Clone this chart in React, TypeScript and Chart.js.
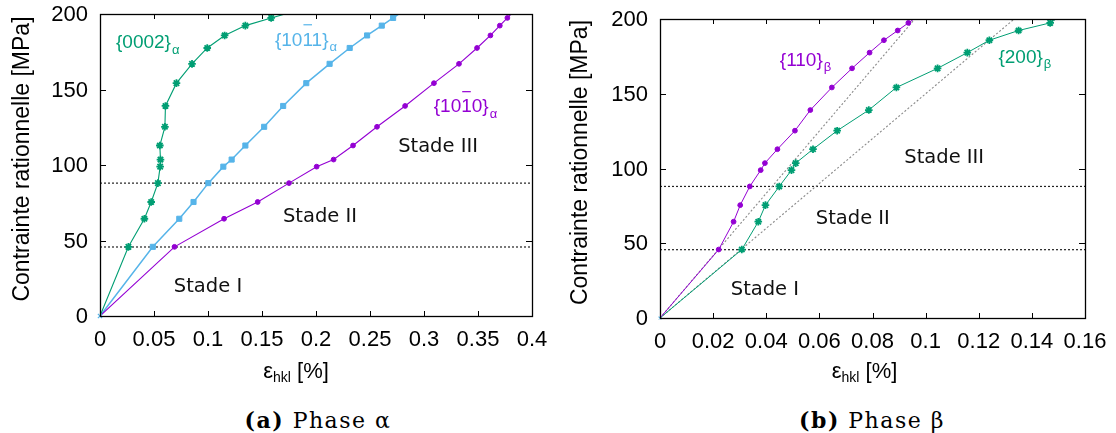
import React, { useEffect, useRef } from 'react';
import { Chart, registerables } from 'chart.js';

Chart.register(...registerables);

// Applied stress levels (MPa), common to every hkl family
const STRESS = [0, 45.8, 64.4, 75.5, 88, 98.9, 103.6, 112.9, 125.3, 139.1, 154.2, 167, 177.5, 185.8, 192.3, 197.4, 205];

// Phase alpha: lattice strains (%)
const ALPHA_0002 = [0, 0.0263, 0.0411, 0.0474, 0.0536, 0.0557, 0.056, 0.0554, 0.0601, 0.0606, 0.0708, 0.0852, 0.0993, 0.1154, 0.1346, 0.1585, 0.196];
const ALPHA_1011 = [0, 0.0489, 0.0734, 0.0866, 0.1003, 0.1142, 0.1219, 0.1346, 0.152, 0.1696, 0.191, 0.2126, 0.2312, 0.2473, 0.2609, 0.2714, 0.287];
const ALPHA_1010 = [0, 0.069, 0.1149, 0.146, 0.175, 0.2006, 0.2163, 0.2343, 0.2565, 0.2825, 0.3092, 0.3324, 0.3491, 0.3615, 0.3702, 0.3772, 0.3876];

// Phase beta: lattice strains (%)
const BETA_110 = [0, 0.0221, 0.0277, 0.0302, 0.0338, 0.0379, 0.0395, 0.0442, 0.0508, 0.0566, 0.0647, 0.0723, 0.0789, 0.0843, 0.0895, 0.0935, 0.0997];
const BETA_200 = [0, 0.0308, 0.037, 0.0397, 0.0449, 0.0495, 0.0511, 0.0576, 0.0667, 0.0786, 0.089, 0.1045, 0.1157, 0.124, 0.135, 0.1469, 0.1535];

// Stage limits (MPa)
const STAGE_LIMITS = [45.7, 88];
// Elastic slopes of the beta phase (MPa / %)
const BETA_ELASTIC_SLOPES = [2085, 1500];

// Axis tick settings
const ALPHA_X_MAX = 0.4;
const ALPHA_X_STEP = 0.05;
const BETA_X_MAX = 0.16;
const BETA_X_STEP = 0.02;
const Y_MAX = 200;
const Y_STEP = 50;

const PURPLE = '#9400D3';
const GREEN = '#009E73';
const BLUE = '#56B4E9';

const zip = (xs: number[], ys: number[]) => xs.map((x, i) => ({ x, y: ys[i] }));

const tickFmt = (v: any) => String(Math.round(Number(v) * 1000) / 1000);

const TICK_FONT = '22px "Liberation Sans"';

const decorPlugin = {
  id: 'decor',
  afterDraw(chart: any, _args: any, opts: any) {
    const { ctx, chartArea: a, scales } = chart;
    const xs = scales.x;
    const ys = scales.y;
    ctx.save();
    ctx.strokeStyle = '#000';
    ctx.lineWidth = 1;
    ctx.beginPath();
    for (const t of xs.ticks) {
      const px = Math.round(xs.getPixelForValue(t.value)) + 0.5;
      ctx.moveTo(px, a.bottom);
      ctx.lineTo(px, a.bottom - 5);
      ctx.moveTo(px, a.top);
      ctx.lineTo(px, a.top + 5);
    }
    for (const t of ys.ticks) {
      const py = Math.round(ys.getPixelForValue(t.value)) + 0.5;
      ctx.moveTo(a.left, py);
      ctx.lineTo(a.left + 6, py);
      ctx.moveTo(a.right, py);
      ctx.lineTo(a.right - 6, py);
    }
    ctx.stroke();
    ctx.lineWidth = 1.3;
    ctx.strokeRect(Math.round(a.left) + 0.5, Math.round(a.top) + 0.5, Math.round(a.right - a.left), Math.round(a.bottom - a.top));

    // tick labels
    ctx.fillStyle = '#000';
    ctx.font = TICK_FONT;
    ctx.textBaseline = 'middle';
    ctx.textAlign = 'center';
    for (const t of xs.ticks) {
      ctx.fillText(tickFmt(t.value), xs.getPixelForValue(t.value), a.bottom + 24);
    }
    ctx.textAlign = 'right';
    for (const t of ys.ticks) {
      ctx.fillText(tickFmt(t.value), a.left - 12, ys.getPixelForValue(t.value) + 1);
    }

    // annotations
    ctx.textBaseline = 'middle';
    for (const l of opts.labels || []) {
      const px = xs.getPixelForValue(l.x);
      const py = ys.getPixelForValue(l.y);
      ctx.font = l.font;
      const w = ctx.measureText(l.text).width;
      let subW = 0;
      if (l.sub) {
        ctx.font = l.subFont;
        subW = ctx.measureText(l.sub).width;
      }
      const x0 = l.align === 'center' ? px - (w + subW) / 2 : px;
      ctx.fillStyle = l.color;
      ctx.font = l.font;
      ctx.textAlign = 'left';
      ctx.fillText(l.text, x0, py);
      if (l.bar !== undefined) {
        const pre = ctx.measureText(l.text.slice(0, l.bar)).width;
        const cw = ctx.measureText(l.text[l.bar]).width;
        ctx.strokeStyle = l.color;
        ctx.lineWidth = 1.2;
        ctx.beginPath();
        ctx.moveTo(x0 + pre + 1, py - 15.5);
        ctx.lineTo(x0 + pre + cw - 1, py - 15.5);
        ctx.stroke();
      }
      if (l.sub) {
        ctx.font = l.subFont;
        ctx.fillText(l.sub, x0 + w + 1, py + 7);
      }
    }

    // x axis title: eps_hkl [%]
    ctx.fillStyle = '#000';
    const mainF = '22px "Liberation Sans"';
    const subF = '14px "Liberation Sans"';
    ctx.font = mainF;
    const e = 'ε';
    const rest = ' [%]';
    const we = ctx.measureText(e).width;
    const wr = ctx.measureText(rest).width;
    ctx.font = subF;
    const ws = ctx.measureText('hkl').width;
    const cx = (a.left + a.right) / 2 + opts.xTitleDx;
    const ty = opts.xTitleY;
    const sx = cx - (we + ws + wr) / 2;
    ctx.textAlign = 'left';
    ctx.font = mainF;
    ctx.fillText(e, sx, ty);
    ctx.font = subF;
    ctx.fillText('hkl', sx + we, ty + 6);
    ctx.font = mainF;
    ctx.fillText(rest, sx + we + ws, ty);

    // y axis title
    ctx.save();
    ctx.translate(opts.yTitleX, (a.top + a.bottom) / 2 - 6);
    ctx.rotate(-Math.PI / 2);
    ctx.textAlign = 'center';
    ctx.font = '23px "Liberation Sans"';
    ctx.fillText('Contrainte rationnelle [MPa]', 0, 0);
    ctx.restore();

    ctx.restore();
  },
};

function seriesDs(xs: number[], color: string, style: string, radius: number, bw: number, lw: number) {
  return {
    data: zip(xs, STRESS),
    borderColor: color,
    backgroundColor: color,
    borderWidth: lw,
    pointStyle: style,
    pointRadius: (c: any) => (c.dataIndex === 0 ? 0 : radius),
    pointBorderWidth: bw,
    pointBorderColor: color,
    pointBackgroundColor: color,
    clip: 0,
    order: 1,
  };
}

function hlineDs(level: number, xMax: number) {
  return {
    data: [{ x: 0, y: level }, { x: xMax, y: level }],
    borderColor: '#222',
    borderWidth: 1.2,
    borderDash: [2, 2],
    pointRadius: 0,
    clip: 0,
    order: 3,
  };
}

function diagDs(slope: number) {
  return {
    data: [{ x: 0, y: 0 }, { x: 205 / slope, y: 205 }],
    borderColor: '#8a8a8a',
    borderWidth: 1.1,
    borderDash: [2, 2],
    pointRadius: 0,
    clip: 0,
    order: 3,
  };
}

const originDs = {
  data: [{ x: 0, y: 0 }],
  borderColor: BLUE,
  pointStyle: 'crossRot',
  pointRadius: 3,
  pointBorderWidth: 1.2,
  pointBorderColor: BLUE,
  showLine: false,
  clip: false,
  order: 0,
};

function makeOptions(p: any) {
  return {
    animation: false,
    responsive: false,
    maintainAspectRatio: false,
    layout: { padding: { top: p.top, right: p.right, left: 0, bottom: 0 } },
    plugins: {
      legend: { display: false },
      tooltip: { enabled: false },
      decor: { labels: p.labels, xTitleY: p.xTitleY, xTitleDx: p.xTitleDx, yTitleX: p.yTitleX },
    },
    scales: {
      x: {
        type: 'linear',
        min: 0,
        max: p.xMax,
        ticks: { display: false, stepSize: p.xStep, autoSkip: false },
        grid: { display: false, drawTicks: false },
        border: { display: false },
        afterFit: (s: any) => {
          s.height = p.xh;
        },
      },
      y: {
        type: 'linear',
        min: 0,
        max: Y_MAX,
        ticks: { display: false, stepSize: Y_STEP },
        grid: { display: false, drawTicks: false },
        border: { display: false },
        afterFit: (s: any) => {
          s.width = p.yw;
        },
      },
    },
  };
}

const SERIES_FONT = '19px "Liberation Sans"';
const SUB_FONT = '13px "Liberation Sans"';
const STAGE_FONT = '19.5px "DejaVu Sans"';
const CANVAS_H = 400;

function ChartCanvas({ config, width, height, left }: any) {
  const ref = useRef<HTMLCanvasElement>(null);
  useEffect(() => {
    const chart = new Chart(ref.current as HTMLCanvasElement, config);
    return () => chart.destroy();
  }, []);
  return (
    <canvas
      ref={ref}
      width={width}
      height={height}
      style={{ position: 'absolute', left, top: 0, width, height }}
    />
  );
}

export default function App() {
  const alphaConfig: any = {
    type: 'scatter',
    data: {
      datasets: [
        seriesDs(ALPHA_1010, PURPLE, 'circle', 2.4, 1, 1.1),
        seriesDs(ALPHA_0002, GREEN, 'star', 3.8, 1.8, 1.1),
        seriesDs(ALPHA_1011, BLUE, 'rect', 3.6, 1, 1.5),
        ...STAGE_LIMITS.map((l) => hlineDs(l, ALPHA_X_MAX)),
        originDs,
      ].map((d: any) => ({ showLine: true, ...d })),
    },
    options: makeOptions({
      top: 14,
      right: 24,
      xh: CANVAS_H - 316,
      yw: 100,
      xMax: ALPHA_X_MAX,
      xStep: ALPHA_X_STEP,
      xTitleY: 372,
      xTitleDx: -20,
      yTitleX: 23,
      labels: [
        { text: '{0002}', sub: 'α', x: 0.0148, y: 180.7, color: GREEN, font: SERIES_FONT, subFont: SUB_FONT, align: 'left' },
        { text: '{1011}', sub: 'α', bar: 3, x: 0.162, y: 182.6, color: BLUE, font: SERIES_FONT, subFont: SUB_FONT, align: 'left' },
        { text: '{1010}', sub: 'α', bar: 3, x: 0.309, y: 138.3, color: PURPLE, font: SERIES_FONT, subFont: SUB_FONT, align: 'left' },
        { text: 'Stade III', x: 0.313, y: 111.8, color: '#111', font: STAGE_FONT, align: 'center' },
        { text: 'Stade II', x: 0.2037, y: 65.4, color: '#111', font: STAGE_FONT, align: 'center' },
        { text: 'Stade I', x: 0.1, y: 19.1, color: '#111', font: STAGE_FONT, align: 'center' },
      ],
    }),
    plugins: [decorPlugin],
  };

  const betaConfig: any = {
    type: 'scatter',
    data: {
      datasets: [
        seriesDs(BETA_110, PURPLE, 'circle', 2.4, 1, 1),
        seriesDs(BETA_200, GREEN, 'star', 3.8, 1.8, 1),
        ...BETA_ELASTIC_SLOPES.map((s) => diagDs(s)),
        ...STAGE_LIMITS.map((l) => hlineDs(l, BETA_X_MAX)),
        { ...originDs, pointRadius: 2 },
      ].map((d: any) => ({ showLine: true, ...d })),
    },
    options: makeOptions({
      top: 19,
      right: 31,
      xh: CANVAS_H - 318,
      yw: 104,
      xMax: BETA_X_MAX,
      xStep: BETA_X_STEP,
      xTitleY: 372,
      xTitleDx: -8,
      yTitleX: 25,
      labels: [
        { text: '{110}', sub: 'β', x: 0.0451, y: 172.3, color: PURPLE, font: SERIES_FONT, subFont: SUB_FONT, align: 'left' },
        { text: '{200}', sub: 'β', x: 0.1274, y: 174.3, color: GREEN, font: SERIES_FONT, subFont: SUB_FONT, align: 'left' },
        { text: 'Stade III', x: 0.107, y: 106.8, color: '#111', font: STAGE_FONT, align: 'center' },
        { text: 'Stade II', x: 0.0726, y: 66, color: '#111', font: STAGE_FONT, align: 'center' },
        { text: 'Stade I', x: 0.0395, y: 18.6, color: '#111', font: STAGE_FONT, align: 'center' },
      ],
    }),
    plugins: [decorPlugin],
  };

  const capStyle: any = {
    position: 'absolute',
    top: 407,
    width: 556,
    textAlign: 'center',
    fontFamily: '"DejaVu Serif", serif',
    fontSize: 22,
    letterSpacing: '1.5px',
    color: '#000',
    whiteSpace: 'nowrap',
  };

  return (
    <div style={{ position: 'absolute', left: 0, top: 0, width: 1116, height: 433, background: '#fff', overflow: 'hidden' }}>
      <ChartCanvas config={alphaConfig} width={556} height={CANVAS_H} left={0} />
      <ChartCanvas config={betaConfig} width={560} height={CANVAS_H} left={556} />
      <div style={{ ...capStyle, left: 40 }}>
        <b>(a)</b> Phase α
      </div>
      <div style={{ ...capStyle, left: 594 }}>
        <b>(b)</b> Phase β
      </div>
    </div>
  );
}
